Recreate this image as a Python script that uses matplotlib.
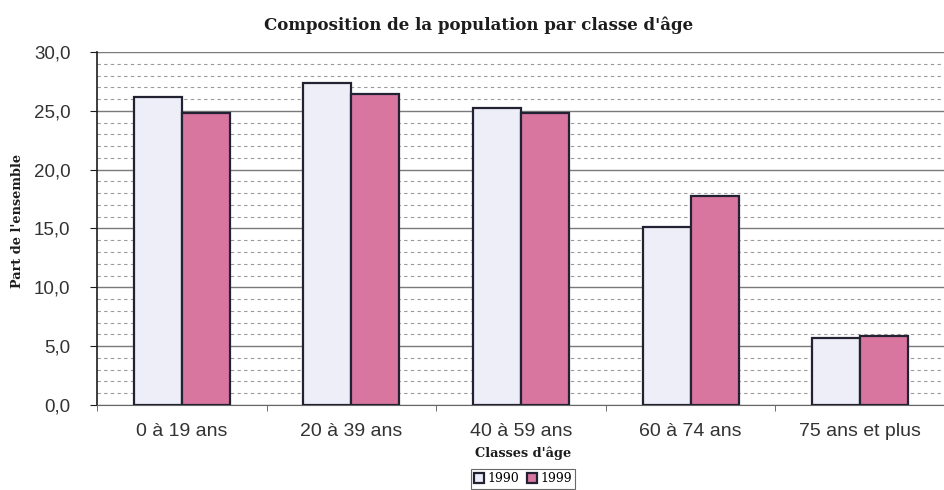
import numpy as np
import matplotlib as mpl; mpl.use("Agg")
import matplotlib.pyplot as plt
from matplotlib.ticker import MultipleLocator, FuncFormatter

categories = ["0 à 19 ans", "20 à 39 ans", "40 à 59 ans", "60 à 74 ans", "75 ans et plus"]
v1990 = [26.2, 27.4, 25.2, 15.1, 5.7]
v1999 = [24.8, 26.4, 24.8, 17.8, 5.9]
years = ["1990", "1999"]

C = {"y90": "#eeeef8", "y99": "#d9769f", "ink": "#1d1d1d", "grid": "#9a9a9a"}
SERIF = ["DejaVu Serif"]
SANS = ["Liberation Sans", "DejaVu Sans"]

fig = plt.figure(figsize=(9.45, 4.9), dpi=100)
fig.patch.set_facecolor("white")
ax = fig.add_axes([0.1026, 0.1735, 0.8974, 0.7204])

x = np.arange(len(categories))
w = 0.283
ax.bar(x - w / 2, v1990, w, color=C["y90"], edgecolor="#222233", lw=1.6, zorder=3, label=years[0])
ax.bar(x + w / 2, v1999, w, color=C["y99"], edgecolor="#222233", lw=1.6, zorder=3, label=years[1])

ax.set_xlim(-0.5, 4.48)
ax.set_ylim(0, 30)
ax.yaxis.set_major_locator(MultipleLocator(5))
ax.yaxis.set_minor_locator(MultipleLocator(1))
ax.yaxis.set_major_formatter(FuncFormatter(lambda v, p: f"{v:.1f}".replace(".", ",")))
ax.grid(axis="y", which="major", color="#7a7a7a", lw=1.0, zorder=1)
ax.grid(axis="y", which="minor", color=C["grid"], lw=0.8, ls=(0, (3, 3)), zorder=1)

ax.set_xticks(x)
ax.set_xticklabels(categories, fontsize=14, family=SANS, color="#333333")
ax.set_xticks(np.arange(len(categories) + 1) - 0.5, minor=True)
ax.tick_params(axis="x", which="major", length=0, pad=13)
ax.tick_params(axis="x", which="minor", length=4, color="#555555")
ax.tick_params(axis="y", which="major", labelsize=13.5, length=5, pad=14, color=C["ink"], labelcolor="#333333")
ax.tick_params(axis="y", which="minor", length=0)
for lab in ax.get_yticklabels():
    lab.set_family(SANS)

for s in ["top", "right"]:
    ax.spines[s].set_visible(False)
ax.spines["left"].set_color(C["ink"])
ax.spines["left"].set_linewidth(1.2)
ax.spines["bottom"].set_color("#666666")

fig.text(0.506, 0.948, "Composition de la population par classe d'âge", fontsize=12, weight="bold",
         family=SERIF, color=C["ink"], ha="center", va="center")
fig.text(0.019, 0.549, "Part de l'ensemble", fontsize=9.3, weight="bold", family=SERIF,
         color=C["ink"], rotation=90, ha="center", va="center")
fig.text(0.5535, 0.0755, "Classes d'âge", fontsize=9.3, weight="bold", family=SERIF,
         color=C["ink"], ha="center", va="center")

leg = fig.legend(loc="center", bbox_to_anchor=(0.5535, 0.0225), ncol=2, frameon=True, fancybox=False,
                 prop={"family": SERIF, "size": 9}, handlelength=0.8, handleheight=0.8,
                 handletextpad=0.3, columnspacing=0.6, borderpad=0.25, edgecolor="#444444")
leg.get_frame().set_linewidth(0.8)

fig.savefig("out.png", dpi=100, facecolor="white")
